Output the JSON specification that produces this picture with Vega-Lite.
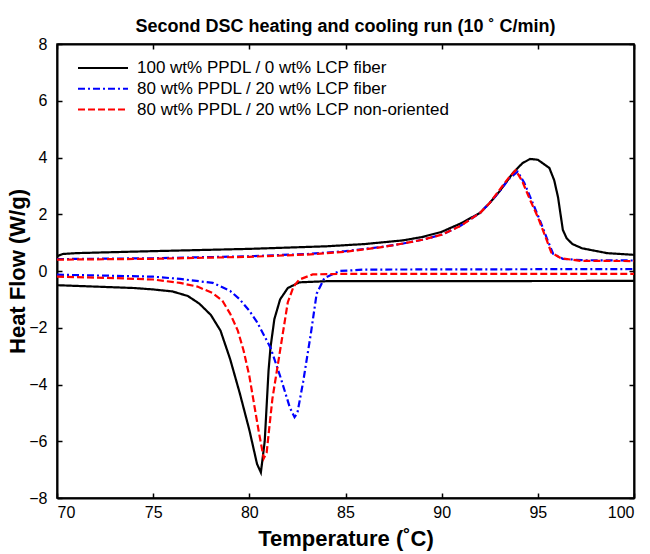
{
  "$schema": "https://vega.github.io/schema/vega-lite/v6.json",
  "width": 577,
  "height": 454,
  "autosize": {"type": "none"},
  "padding": {"left": 57, "top": 44, "right": 16, "bottom": 56},
  "background": "white",
  "config": {
    "font": "Liberation Sans",
    "view": {"stroke": "black", "strokeWidth": 1.5},
    "axis": {
      "grid": false,
      "domainColor": "black",
      "domainWidth": 2,
      "tickColor": "black",
      "tickWidth": 1.5,
      "tickSize": -5,
      "labelFont": "Liberation Sans",
      "labelFontSize": 16,
      "labelColor": "black",
      "titleFont": "Liberation Sans",
      "titleFontSize": 22,
      "titleFontWeight": "bold",
      "titleColor": "black"
    }
  },
  "title": {
    "text": "Second DSC heating and cooling run (10 ˚ C/min)",
    "font": "Liberation Sans",
    "fontSize": 18,
    "fontWeight": "bold",
    "color": "black",
    "offset": 0
  },
  "data": {
    "values": [
      {"s": "A", "run": "h", "t": 70, "q": 0.52},
      {"s": "A", "run": "h", "t": 70.3, "q": 0.6},
      {"s": "A", "run": "h", "t": 71, "q": 0.63},
      {"s": "A", "run": "h", "t": 75, "q": 0.7},
      {"s": "A", "run": "h", "t": 80, "q": 0.78},
      {"s": "A", "run": "h", "t": 84, "q": 0.87},
      {"s": "A", "run": "h", "t": 86, "q": 0.95},
      {"s": "A", "run": "h", "t": 88, "q": 1.08},
      {"s": "A", "run": "h", "t": 89, "q": 1.2},
      {"s": "A", "run": "h", "t": 90, "q": 1.38},
      {"s": "A", "run": "h", "t": 91, "q": 1.68},
      {"s": "A", "run": "h", "t": 92, "q": 2.05},
      {"s": "A", "run": "h", "t": 92.5, "q": 2.4},
      {"s": "A", "run": "h", "t": 93, "q": 2.8},
      {"s": "A", "run": "h", "t": 93.7, "q": 3.45},
      {"s": "A", "run": "h", "t": 94.2, "q": 3.8},
      {"s": "A", "run": "h", "t": 94.6, "q": 3.95},
      {"s": "A", "run": "h", "t": 95.0, "q": 3.92},
      {"s": "A", "run": "h", "t": 95.6, "q": 3.63},
      {"s": "A", "run": "h", "t": 95.85, "q": 3.2},
      {"s": "A", "run": "h", "t": 96.05, "q": 2.6},
      {"s": "A", "run": "h", "t": 96.3, "q": 1.45},
      {"s": "A", "run": "h", "t": 96.5, "q": 1.15},
      {"s": "A", "run": "h", "t": 96.8, "q": 0.95},
      {"s": "A", "run": "h", "t": 97.3, "q": 0.8},
      {"s": "A", "run": "h", "t": 98.6, "q": 0.63},
      {"s": "A", "run": "h", "t": 100, "q": 0.57},
      {"s": "A", "run": "c", "t": 70, "q": -0.5},
      {"s": "A", "run": "c", "t": 72, "q": -0.55},
      {"s": "A", "run": "c", "t": 74, "q": -0.6},
      {"s": "A", "run": "c", "t": 75, "q": -0.65},
      {"s": "A", "run": "c", "t": 76, "q": -0.72},
      {"s": "A", "run": "c", "t": 76.8, "q": -0.88},
      {"s": "A", "run": "c", "t": 77.4, "q": -1.15},
      {"s": "A", "run": "c", "t": 78, "q": -1.55},
      {"s": "A", "run": "c", "t": 78.5, "q": -2.1},
      {"s": "A", "run": "c", "t": 79.0, "q": -3.1},
      {"s": "A", "run": "c", "t": 79.5, "q": -4.3},
      {"s": "A", "run": "c", "t": 80.0, "q": -5.6},
      {"s": "A", "run": "c", "t": 80.4, "q": -6.8},
      {"s": "A", "run": "c", "t": 80.6, "q": -7.1},
      {"s": "A", "run": "c", "t": 80.8, "q": -6.0},
      {"s": "A", "run": "c", "t": 81.0, "q": -3.5},
      {"s": "A", "run": "c", "t": 81.1, "q": -2.7},
      {"s": "A", "run": "c", "t": 81.3, "q": -1.7},
      {"s": "A", "run": "c", "t": 81.6, "q": -1.0},
      {"s": "A", "run": "c", "t": 82.0, "q": -0.6},
      {"s": "A", "run": "c", "t": 82.6, "q": -0.4},
      {"s": "A", "run": "c", "t": 84, "q": -0.36},
      {"s": "A", "run": "c", "t": 100, "q": -0.35},
      {"s": "B", "run": "h", "t": 70, "q": 0.42},
      {"s": "B", "run": "h", "t": 75, "q": 0.45},
      {"s": "B", "run": "h", "t": 80, "q": 0.52},
      {"s": "B", "run": "h", "t": 83, "q": 0.6},
      {"s": "B", "run": "h", "t": 85, "q": 0.7},
      {"s": "B", "run": "h", "t": 87, "q": 0.86},
      {"s": "B", "run": "h", "t": 88, "q": 0.97},
      {"s": "B", "run": "h", "t": 89, "q": 1.1},
      {"s": "B", "run": "h", "t": 90, "q": 1.28},
      {"s": "B", "run": "h", "t": 91, "q": 1.6},
      {"s": "B", "run": "h", "t": 92, "q": 2.05},
      {"s": "B", "run": "h", "t": 92.5, "q": 2.4},
      {"s": "B", "run": "h", "t": 93, "q": 2.8},
      {"s": "B", "run": "h", "t": 93.5, "q": 3.25},
      {"s": "B", "run": "h", "t": 93.95, "q": 3.5},
      {"s": "B", "run": "h", "t": 94.3, "q": 3.1},
      {"s": "B", "run": "h", "t": 94.7, "q": 2.45},
      {"s": "B", "run": "h", "t": 95.1, "q": 1.8},
      {"s": "B", "run": "h", "t": 95.5, "q": 1.1},
      {"s": "B", "run": "h", "t": 95.8, "q": 0.6},
      {"s": "B", "run": "h", "t": 96.3, "q": 0.43},
      {"s": "B", "run": "h", "t": 97.3, "q": 0.38},
      {"s": "B", "run": "h", "t": 100, "q": 0.37},
      {"s": "B", "run": "c", "t": 70, "q": -0.13},
      {"s": "B", "run": "c", "t": 73, "q": -0.17},
      {"s": "B", "run": "c", "t": 75, "q": -0.2},
      {"s": "B", "run": "c", "t": 76.4, "q": -0.28},
      {"s": "B", "run": "c", "t": 78.1, "q": -0.42},
      {"s": "B", "run": "c", "t": 79.0, "q": -0.7},
      {"s": "B", "run": "c", "t": 79.5, "q": -1.0},
      {"s": "B", "run": "c", "t": 80.0, "q": -1.4},
      {"s": "B", "run": "c", "t": 80.4, "q": -1.8},
      {"s": "B", "run": "c", "t": 81.1, "q": -2.7},
      {"s": "B", "run": "c", "t": 81.6, "q": -3.7},
      {"s": "B", "run": "c", "t": 82.1, "q": -4.8},
      {"s": "B", "run": "c", "t": 82.35, "q": -5.15},
      {"s": "B", "run": "c", "t": 82.5, "q": -5.0},
      {"s": "B", "run": "c", "t": 82.8, "q": -3.9},
      {"s": "B", "run": "c", "t": 83.2, "q": -2.2},
      {"s": "B", "run": "c", "t": 83.5, "q": -0.8},
      {"s": "B", "run": "c", "t": 83.9, "q": -0.25},
      {"s": "B", "run": "c", "t": 84.7, "q": 0.0},
      {"s": "B", "run": "c", "t": 86, "q": 0.05},
      {"s": "B", "run": "c", "t": 100, "q": 0.07},
      {"s": "C", "run": "h", "t": 70, "q": 0.4},
      {"s": "C", "run": "h", "t": 75, "q": 0.43},
      {"s": "C", "run": "h", "t": 80, "q": 0.5},
      {"s": "C", "run": "h", "t": 83, "q": 0.58},
      {"s": "C", "run": "h", "t": 85, "q": 0.68},
      {"s": "C", "run": "h", "t": 87, "q": 0.85},
      {"s": "C", "run": "h", "t": 88, "q": 0.97},
      {"s": "C", "run": "h", "t": 89, "q": 1.1},
      {"s": "C", "run": "h", "t": 90, "q": 1.28},
      {"s": "C", "run": "h", "t": 91, "q": 1.6},
      {"s": "C", "run": "h", "t": 92, "q": 2.05},
      {"s": "C", "run": "h", "t": 92.5, "q": 2.4},
      {"s": "C", "run": "h", "t": 93, "q": 2.85},
      {"s": "C", "run": "h", "t": 93.5, "q": 3.3},
      {"s": "C", "run": "h", "t": 93.85, "q": 3.55},
      {"s": "C", "run": "h", "t": 94.2, "q": 3.15},
      {"s": "C", "run": "h", "t": 94.6, "q": 2.5},
      {"s": "C", "run": "h", "t": 95.0, "q": 1.9},
      {"s": "C", "run": "h", "t": 95.4, "q": 1.2},
      {"s": "C", "run": "h", "t": 95.7, "q": 0.65},
      {"s": "C", "run": "h", "t": 96.2, "q": 0.45},
      {"s": "C", "run": "h", "t": 97.2, "q": 0.36},
      {"s": "C", "run": "h", "t": 100, "q": 0.35},
      {"s": "C", "run": "c", "t": 70, "q": -0.2},
      {"s": "C", "run": "c", "t": 73, "q": -0.25},
      {"s": "C", "run": "c", "t": 75, "q": -0.3},
      {"s": "C", "run": "c", "t": 76.4, "q": -0.42},
      {"s": "C", "run": "c", "t": 77.3, "q": -0.55},
      {"s": "C", "run": "c", "t": 78.1, "q": -0.78},
      {"s": "C", "run": "c", "t": 78.6, "q": -1.05},
      {"s": "C", "run": "c", "t": 79.0, "q": -1.5},
      {"s": "C", "run": "c", "t": 79.4, "q": -2.1},
      {"s": "C", "run": "c", "t": 79.7, "q": -2.8},
      {"s": "C", "run": "c", "t": 80.0, "q": -3.7},
      {"s": "C", "run": "c", "t": 80.2, "q": -4.5},
      {"s": "C", "run": "c", "t": 80.5, "q": -5.7},
      {"s": "C", "run": "c", "t": 80.75, "q": -6.6},
      {"s": "C", "run": "c", "t": 80.9, "q": -6.4},
      {"s": "C", "run": "c", "t": 81.2, "q": -4.5},
      {"s": "C", "run": "c", "t": 81.6, "q": -2.8},
      {"s": "C", "run": "c", "t": 82.0, "q": -1.1},
      {"s": "C", "run": "c", "t": 82.3, "q": -0.55},
      {"s": "C", "run": "c", "t": 82.6, "q": -0.3},
      {"s": "C", "run": "c", "t": 83.3, "q": -0.12},
      {"s": "C", "run": "c", "t": 85, "q": -0.1},
      {"s": "C", "run": "c", "t": 100, "q": -0.1}
    ]
  },
  "layer": [
    {
      "mark": {"type": "line", "strokeWidth": 2.2, "clip": true},
      "encoding": {
        "x": {
          "field": "t", "type": "quantitative",
          "scale": {"domain": [70, 100], "nice": false, "zero": false},
          "axis": {"values": [70, 75, 80, 85, 90, 95, 100], "title": "Temperature (˚C)", "labelPadding": 11, "titlePadding": 8}
        },
        "y": {
          "field": "q", "type": "quantitative",
          "scale": {"domain": [-8, 8], "nice": false, "zero": false},
          "axis": {"values": [-8, -6, -4, -2, 0, 2, 4, 6, 8], "title": "Heat Flow (W/g)", "labelPadding": 15, "titlePadding": -1}
        },
        "color": {
          "field": "s", "type": "nominal",
          "scale": {"domain": ["A", "B", "C"], "range": ["#000000", "#0000ff", "#ff0000"]},
          "legend": {
            "orient": "none",
            "legendX": 20,
            "legendY": 14,
            "title": null,
            "symbolType": "stroke",
            "symbolSize": 2500,
            "symbolStrokeWidth": 2,
            "labelFontSize": 17,
            "labelFont": "Liberation Sans",
            "labelColor": "black",
            "labelLimit": 500,
            "labelOffset": 8,
            "clipHeight": 20,
            "rowPadding": 0.8,
            "labelExpr": "datum.value == 'A' ? '100 wt% PPDL / 0 wt% LCP fiber' : datum.value == 'B' ? '80 wt% PPDL / 20 wt% LCP fiber' : '80 wt% PPDL / 20 wt% LCP non-oriented'"
          }
        },
        "strokeDash": {
          "field": "s", "type": "nominal",
          "scale": {"domain": ["A", "B", "C"], "range": [[1, 0], [7, 3, 2, 3], [7, 3]]},
          "legend": null
        },
        "detail": {"field": "run"}
      }
    },
    {
      "mark": {"type": "line", "opacity": 0},
      "encoding": {
        "x": {
          "field": "t", "type": "quantitative",
          "axis": {"orient": "top", "values": [70, 75, 80, 85, 90, 95, 100], "labels": false, "title": null}
        },
        "y": {
          "field": "q", "type": "quantitative",
          "axis": {"orient": "right", "values": [-8, -6, -4, -2, 0, 2, 4, 6, 8], "labels": false, "title": null}
        },
        "detail": {"field": "run"}
      }
    }
  ],
  "resolve": {"axis": {"x": "independent", "y": "independent"}}
}
